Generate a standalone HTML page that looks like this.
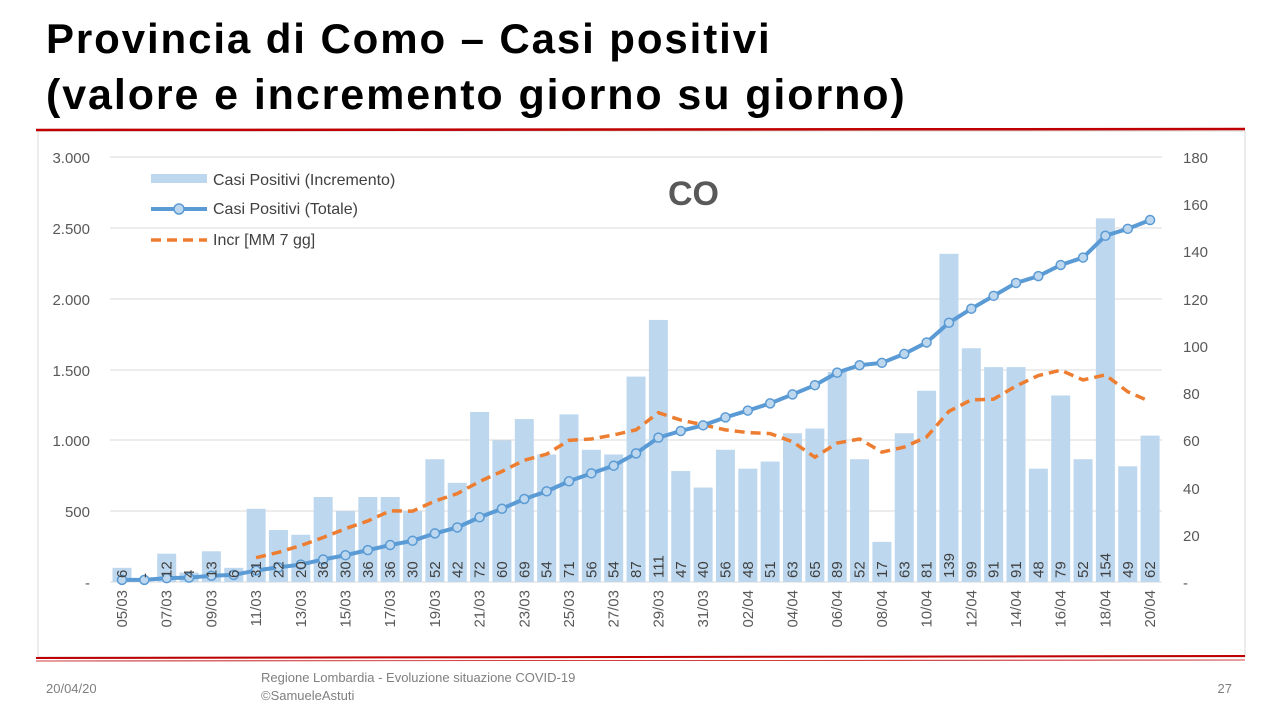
<!DOCTYPE html>
<html><head><meta charset="utf-8"><style>
body{margin:0;width:1280px;height:720px;background:#fff;overflow:hidden;font-family:"Liberation Sans",sans-serif;}
.t{position:absolute;left:46px;font-weight:bold;font-size:42px;color:#000;line-height:50px;letter-spacing:1.9px;white-space:nowrap}
</style></head><body>
<div class="t" style="top:14px">Provincia di Como – Casi positivi</div>
<div class="t" style="top:70px;font-size:43px">(valore e incremento giorno su giorno)</div>
<svg width="1280" height="720" style="position:absolute;left:0;top:0" font-family="Liberation Sans, sans-serif">
<rect x="38" y="131" width="1207" height="526" fill="none" stroke="#d9d9d9"/>
<line x1="36" y1="130" x2="1245" y2="129" stroke="#c00000" stroke-width="2.5"/>
<line x1="36" y1="658" x2="1245" y2="656" stroke="#c00000" stroke-width="2"/>
<line x1="36" y1="661" x2="1245" y2="660" stroke="#c00000" stroke-width="0.8"/>
<g stroke="#d9d9d9" stroke-width="1">
<line x1="110" y1="157" x2="1162" y2="157"/><line x1="110" y1="228" x2="1162" y2="228"/>
<line x1="110" y1="299" x2="1162" y2="299"/><line x1="110" y1="370" x2="1162" y2="370"/>
<line x1="110" y1="440" x2="1162" y2="440"/><line x1="110" y1="511" x2="1162" y2="511"/>
<line x1="110" y1="582" x2="1162" y2="582"/>
</g>
<g font-size="15" fill="#595959" text-anchor="end">
<text x="90" y="163">3.000</text><text x="90" y="234">2.500</text><text x="90" y="305">2.000</text>
<text x="90" y="376">1.500</text><text x="90" y="446">1.000</text><text x="90" y="517">500</text><text x="90" y="588">-</text>
</g>
<g font-size="15" fill="#595959" text-anchor="start">
<text x="1183" y="163">180</text><text x="1183" y="210">160</text><text x="1183" y="257">140</text>
<text x="1183" y="305">120</text><text x="1183" y="352">100</text><text x="1183" y="399">80</text>
<text x="1183" y="446">60</text><text x="1183" y="494">40</text><text x="1183" y="541">20</text><text x="1183" y="588">-</text>
</g>
<g id="bars"></g>
<polyline id="mm" fill="none" stroke="#ed7d31" stroke-width="3.5" stroke-dasharray="10,6"/>
<polyline id="tot" fill="none" stroke="#5b9bd5" stroke-width="4"/>
<g id="dots"></g>
<g font-size="15" fill="#404040" id="vals"></g>
<g font-size="15" fill="#595959" id="dates"></g>
<text x="668" y="205" font-size="34" font-weight="bold" fill="#595959">CO</text>
<rect x="151" y="174" width="56" height="9" fill="#bdd7ee"/>
<text x="213" y="185" font-size="16" fill="#404040">Casi Positivi (Incremento)</text>
<line x1="151" y1="209" x2="207" y2="209" stroke="#5b9bd5" stroke-width="4"/>
<circle cx="179" cy="209" r="5" fill="#bdd7ee" stroke="#5b9bd5" stroke-width="1.5"/>
<text x="213" y="214" font-size="16" fill="#404040">Casi Positivi (Totale)</text>
<line x1="151" y1="240" x2="207" y2="240" stroke="#ed7d31" stroke-width="3.5" stroke-dasharray="10,6"/>
<text x="213" y="245" font-size="16" fill="#404040">Incr [MM 7 gg]</text>
<text x="46" y="693" font-size="13" fill="#7f7f7f">20/04/20</text>
<text x="261" y="682" font-size="13" fill="#7f7f7f">Regione Lombardia - Evoluzione situazione COVID-19</text>
<text x="261" y="700" font-size="13" fill="#7f7f7f">©SamueleAstuti</text>
<text x="1232" y="693" font-size="13" fill="#7f7f7f" text-anchor="end">27</text>
</svg>
<script>
var inc=[6,0,12,4,13,6,31,22,20,36,30,36,36,30,52,42,72,60,69,54,71,56,54,87,111,47,40,56,48,51,63,65,89,52,17,63,81,139,99,91,91,48,79,52,154,49,62];
var lab=["6","-","12","4","13","6","31","22","20","36","30","36","36","30","52","42","72","60","69","54","71","56","54","87","111","47","40","56","48","51","63","65","89","52","17","63","81","139","99","91","91","48","79","52","154","49","62"];
var dates=["05/03","07/03","09/03","11/03","13/03","15/03","17/03","19/03","21/03","23/03","25/03","27/03","29/03","31/03","02/04","04/04","06/04","08/04","10/04","12/04","14/04","16/04","18/04","20/04"];
var NS="http://www.w3.org/2000/svg";
function el(t,a,p){var e=document.createElementNS(NS,t);for(var k in a)e.setAttribute(k,a[k]);document.getElementById(p).appendChild(e);return e;}
function X(i){return 122+22.35*i;}
function YR(v){return 582-v/180*425;}
function YL(v){return 582-v/3000*425;}
var total=inc.reduce(function(a,b){return a+b},0);var c=2555-total;var tp=[],mp=[];
for(var i=0;i<47;i++){
 var h=inc[i]/180*425;
 el("rect",{x:X(i)-9.5,y:582-h,width:19,height:h,fill:"#bdd7ee"},"bars");
 c+=inc[i];tp.push(X(i)+","+YL(c));
 if(i>=6){var s=0;for(var j=i-6;j<=i;j++)s+=inc[j];mp.push(X(i)+","+YR(s/7));}
 el("circle",{cx:X(i),cy:YL(c),r:4.5,fill:"#bdd7ee",stroke:"#5b9bd5","stroke-width":1.5},"dots");
 var t=el("text",{transform:"translate("+(X(i)+5)+",578) rotate(-90)"},"vals");t.textContent=lab[i];
}
document.getElementById("tot").setAttribute("points",tp.join(" "));
document.getElementById("mm").setAttribute("points",mp.join(" "));
for(var k=0;k<dates.length;k++){var t=el("text",{transform:"translate("+(X(2*k)+5)+",590) rotate(-90)","text-anchor":"end"},"dates");t.textContent=dates[k];}
</script>
</body></html>
